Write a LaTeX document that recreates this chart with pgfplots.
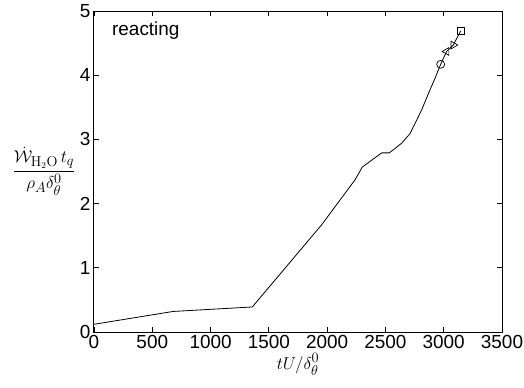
\documentclass[border=0pt]{standalone}
\usepackage{amsmath}
\usepackage[no-math]{fontspec}
\setmainfont{Liberation Sans}
\usepackage{pgfplots}
\pgfplotsset{compat=1.18}
\begin{document}
\begin{tikzpicture}
\begin{axis}[
  at={(0,0)}, anchor=south west,
  scale only axis, width=408bp, height=321bp,
  xmin=0, xmax=3500, ymin=0, ymax=5,
  xtick={0,500,...,3500}, ytick={0,1,...,5},
  font=\fontsize{19}{22}\selectfont,
  /pgf/number format/assume math mode=true,
  /pgf/number format/1000 sep={},
  scaled x ticks=false,
  tick align=inside, major tick length=5bp,
  axis line style={line width=1bp},
  every tick/.style={black, line width=0.8bp},
  xlabel={$tU/\delta_\theta^0$},
  ylabel={$\dfrac{\dot{\mathcal{W}}_{\mathrm{H_2O}}\,t_q}{\rho_A\delta_\theta^0}$},
  xlabel style={at={(axis description cs:0.5,-0.1153)}, anchor=base},
  ylabel style={rotate=-90, at={(axis description cs:-0.1225,0.5)}, anchor=center},
]
\addplot[black, line width=0.8bp] coordinates {
(0,0.12) (678,0.32) (1358,0.39) (1953,1.67)
(2239,2.37) (2302,2.57) (2468,2.79) (2533,2.79) (2639,2.94)
(2711,3.09) (2811,3.46) (2870,3.72) (2925,3.95) (2974,4.17) (3025,4.37)
(3082,4.47) (3146,4.69)};
\addplot[black, only marks, mark=o, mark size=4bp, mark options={line width=0.7bp}] coordinates {(2974,4.17)};
\addplot[black, only marks, mark=triangle, mark size=4.5bp, mark options={rotate=90, line width=0.7bp}] coordinates {(3025,4.37)};
\addplot[black, only marks, mark=triangle, mark size=4.5bp, mark options={rotate=-90, line width=0.7bp}] coordinates {(3082,4.47)};
\addplot[black, only marks, mark=square, mark size=3.5bp, mark options={line width=0.7bp}] coordinates {(3146,4.69)};
\node[anchor=base west, inner sep=0pt] at (rel axis cs:0.044,0.925) {reacting};
\end{axis}
\pgfresetboundingbox
\useasboundingbox (-94bp,-56bp) rectangle (430bp,332bp);
\end{tikzpicture}
\end{document}
